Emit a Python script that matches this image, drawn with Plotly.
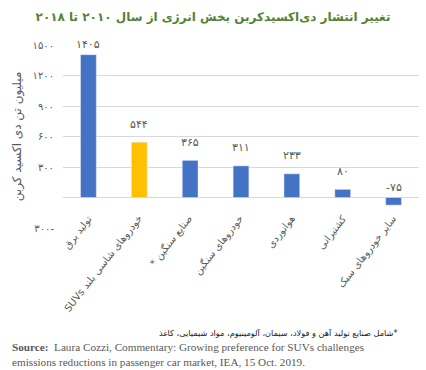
import plotly.graph_objects as go

categories = ["تولید برق", "SUVs خودروهای شاسی بلند", "* صنایع سنگین", "خودروهای سنگین",
              "هوانوردی", "کشتیرانی", "سایر خودروهای سبک"]
values = [1405, 544, 365, 311, 233, 80, -75]
value_labels = ["۱۴۰۵", "۵۴۴", "۳۶۵", "۳۱۱", "۲۳۳", "۸۰", "-۷۵"]
tick_vals = [1500, 1200, 900, 600, 300, 0, -300]
tick_text = ["۱۵۰۰", "۱۲۰۰", "۹۰۰", "۶۰۰", "۳۰۰", "", "۳۰۰-"]
colors = ["#4472c4", "#ffc000", "#4472c4", "#4472c4", "#4472c4", "#4472c4", "#4472c4"]

title = "تغییر انتشار دی‌اکسیدکربن بخش انرژی از سال ۲۰۱۰ تا ۲۰۱۸"
y_title = "میلیون تن دی اکسید کربن"
footnote = "شامل صنایع تولید آهن و فولاد، سیمان، آلومینیوم، مواد شیمیایی، کاغذ*"
source = ("<b>Source:</b>  Laura Cozzi, Commentary: Growing preference for SUVs challenges<br>"
          "emissions reductions in passenger car market, IEA, 15 Oct. 2019.")

fig = go.Figure(go.Bar(x=categories, y=values, marker_color=colors, width=0.31,
                       hoverinfo="skip"))

gray = "#595959"
ann = []
for c, v, t in zip(categories, values, value_labels):
    shift = 10 if (v < 0 or v > 1300) else 18
    ann.append(dict(x=c, y=max(v, 0), text=t, showarrow=False, yanchor="middle",
                    yshift=shift, font=dict(size=11, color=gray, family="DejaVu Sans")))
    ann.append(dict(x=c, y=0, text=c, showarrow=False, xanchor="right", yanchor="top",
                    textangle=-52, xshift=8, yshift=-13,
                    font=dict(size=10, color=gray, family="DejaVu Sans")))

ann.append(dict(xref="paper", yref="paper", x=(400 - 63) / 356, y=(228 - 333) / 183,
                xanchor="right", yanchor="middle", text=footnote, showarrow=False,
                font=dict(size=8.2, color="#222222", family="DejaVu Sans")))
ann.append(dict(xref="paper", yref="paper", x=(10 - 63) / 356, y=(228 - 339) / 183,
                xanchor="left", yanchor="top", align="left", text=source, showarrow=False,
                font=dict(size=11.2, color=gray, family="Liberation Serif")))

fig.update_layout(
    width=426, height=370,
    margin=dict(l=63, r=7, t=45, b=142),
    paper_bgcolor="white", plot_bgcolor="white",
    showlegend=False,
    title=dict(text="<b>" + title + "</b>", x=0.5, xanchor="center", y=1 - 17 / 370,
               yanchor="middle", font=dict(size=12, color="#548235", family="DejaVu Sans")),
    xaxis=dict(showticklabels=False, showgrid=False, zeroline=False, showline=False,
               range=[-0.5, 6.5]),
    yaxis=dict(range=[-300, 1500], tickvals=tick_vals, ticktext=tick_text,
               showgrid=True, gridcolor="#d9d9d9", gridwidth=1, zeroline=False,
               showline=False, ticks="", ticklabelstandoff=8,
               tickfont=dict(size=10, color=gray, family="DejaVu Sans"),
               title=dict(text=y_title, standoff=8,
                          font=dict(size=12, color=gray, family="DejaVu Sans"))),
    annotations=ann,
)

fig.write_html("out.html", config={"displayModeBar": False},
               post_script="document.body.style.margin='0';")
